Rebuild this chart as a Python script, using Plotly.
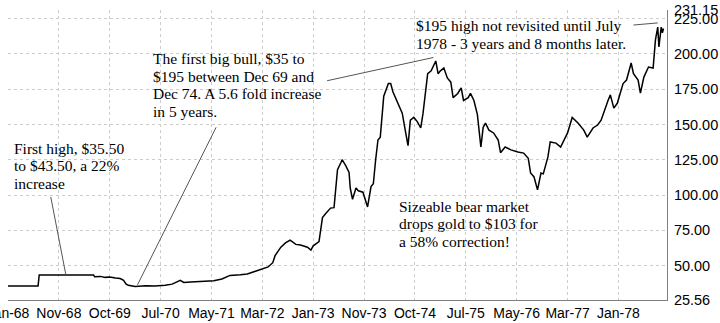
import plotly.graph_objects as go

# Weekly gold closes (US$/oz), sampled by week number from the first week of 1968
week = [0, 26, 27, 74, 75, 80, 84, 88, 93, 97, 100, 102, 104, 110, 119, 127, 136, 142,
        149, 152, 158, 166, 178, 185, 192, 201, 207, 214, 218, 225, 229, 231, 236, 240,
        244, 249, 253, 259, 262, 264, 269, 272, 275, 279, 282, 284, 285, 288, 289, 292,
        295, 296, 298, 301, 303, 307, 311, 314, 316, 318, 320, 322, 325, 329, 331, 333,
        338, 341, 344, 346, 348, 351, 354, 357, 359, 363, 366, 368, 370, 372, 374, 377,
        380, 383, 385, 389, 392, 394, 398, 400, 403, 406, 407, 409, 411, 413, 416, 420,
        424, 426, 430, 435, 441, 446, 450, 452, 455, 458, 461, 463, 467, 469, 474, 478,
        484, 488, 493, 498, 501, 506, 510, 513, 519, 521, 524, 527, 532, 535, 539, 541,
        545, 547, 550, 554, 558, 560, 562, 563, 565, 566, 567]
price = [35.4, 35.4, 43.3, 43.3, 42.0, 42.3, 41.6, 41.9, 41.2, 40.8, 39.5, 37.0, 36.0,
         35.2, 35.6, 35.4, 36.0, 36.8, 39.5, 38.0, 38.4, 38.6, 39.2, 40.5, 43.0, 43.5,
         44.0, 46.0, 47.0, 49.0, 52.0, 57.0, 63.0, 66.0, 68.0, 65.0, 64.5, 63.0, 61.0,
         64.0, 67.0, 84.0, 87.0, 90.7, 91.0, 106.0, 118.0, 123.0, 125.0, 121.0, 116.0,
         105.0, 97.0, 105.0, 103.0, 102.0, 91.5, 106.0, 108.0, 125.0, 139.0, 141.0, 170.0,
         179.0, 179.0, 173.0, 163.0, 158.0, 144.0, 135.0, 153.0, 155.0, 152.0, 147.5,
         158.0, 186.0, 188.0, 192.0, 195.0, 186.0, 188.0, 190.0, 183.0, 180.0, 169.0,
         172.0, 176.0, 167.0, 169.0, 172.0, 167.0, 157.0, 148.0, 134.0, 148.0, 151.0,
         146.0, 144.0, 139.0, 130.0, 134.0, 132.0, 130.5, 129.7, 126.0, 115.6, 112.8,
         103.6, 115.6, 115.0, 127.0, 137.6, 136.8, 134.0, 144.0, 155.0, 151.0, 146.0,
         141.0, 147.5, 149.6, 153.0, 167.0, 171.0, 161.6, 165.0, 179.0, 181.5, 193.6,
         186.0, 181.5, 172.3, 183.6, 190.7, 190.0, 210.0, 219.0, 205.0, 219.0, 215.0,
         218.0]

# Category labels, one every 44 weeks
tick_weeks = [0, 44, 88, 132, 176, 220, 264, 308, 352, 396, 440, 484, 528]
tick_labels = ["Jan-68", "Nov-68", "Oct-69", "Jul-70", "May-71", "Mar-72", "Jan-73",
               "Nov-73", "Oct-74", "Jul-75", "May-76", "Mar-77", "Jan-78"]

y_min, y_max = 25.56, 231.15
y_ticks = [y_min, 50, 75, 100, 125, 150, 175, 200, 225, y_max]

note_first_high = ["First high, $35.50", "to $43.50, a 22%", "increase"]
note_bull = ["The first big bull, $35 to", "$195 between Dec 69 and",
             "Dec 74. A 5.6 fold increase", "in 5 years."]
note_high = ["$195 high not revisited until July", "1978 - 3 years and 8 months later."]
note_bear = ["Sizeable bear market", "drops gold to $103 for", "a 58% correction!"]

W, H = 720, 323
ML, MR, MT, MB = 8, 53, 10, 23
PW, PH = W - ML - MR, H - MT - MB


def paper_x(px):
    return (px - ML) / PW


def paper_y(py):
    return (H - MB - py) / PH


fig = go.Figure(go.Scatter(x=week, y=price, mode="lines",
                           line=dict(color="black", width=1.5), hoverinfo="skip"))

serif = dict(family="Liberation Serif, Times New Roman, serif", size=15.5, color="black")
annotations = []


def add_block(lines, left, first_mid, pitch=17.5):
    for k, txt in enumerate(lines):
        annotations.append(dict(text=txt, xref="paper", yref="paper",
                                x=paper_x(left), y=paper_y(first_mid + k * pitch),
                                xanchor="left", yanchor="middle", showarrow=False,
                                font=serif))


add_block(note_first_high, 12, 148)
add_block(note_bull, 151, 58.5)
add_block(note_high, 414, 25.5)
add_block(note_bear, 397, 206)

leader = dict(color="#555555", width=1)
shapes = [
    dict(type="line", xref="x", yref="y", x0=37, y0=98.6, x1=50, y1=43.6, line=leader),
    dict(type="line", xref="x", yref="y", x0=180, y0=148, x1=112, y1=36.3, line=leader),
    dict(type="line", xref="x", yref="y", x0=276, y0=181, x1=368, y1=197.5, line=leader),
    dict(type="line", xref="x", yref="y", x0=541, y0=220.5, x1=562, y1=222, line=leader),
]

fig.update_layout(
    width=W, height=H,
    margin=dict(l=ML, r=MR, t=MT, b=MB, autoexpand=False),
    paper_bgcolor="white", plot_bgcolor="white",
    showlegend=False,
    annotations=annotations,
    shapes=shapes,
    xaxis=dict(range=[0, 570], tickvals=tick_weeks, ticktext=tick_labels,
               showgrid=True, gridcolor="#cccccc", griddash="dot", gridwidth=1,
               showline=True, linecolor="#808080", linewidth=1,
               ticks="", zeroline=False, ticklabeloverflow="allow",
               ticklabelstandoff=0, automargin=False,
               tickfont=dict(family="Liberation Sans, Arial, sans-serif", size=14,
                             color="black")),
    yaxis=dict(range=[y_min, y_max], side="right", tickvals=y_ticks,
               ticktext=[f"{v:.2f}" for v in y_ticks],
               showgrid=True, gridcolor="#cccccc", griddash="dot", gridwidth=1,
               showline=True, linecolor="#808080", linewidth=1,
               ticks="", zeroline=False, ticklabelstandoff=3, automargin=False,
               tickfont=dict(family="Liberation Sans, Arial, sans-serif", size=14.5,
                             color="black")),
)

fig.write_html("out.html")
